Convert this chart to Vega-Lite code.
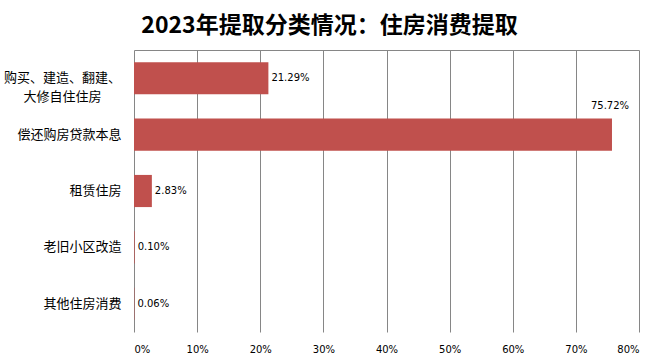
{
  "$schema": "https://vega.github.io/schema/vega-lite/v6.json",
  "width": 505,
  "height": 282,
  "autosize": "none",
  "padding": {"left": 134, "top": 50, "right": 18, "bottom": 25},
  "background": "white",
  "title": {
    "text": "2023年提取分类情况：住房消费提取",
    "font": "Noto Sans CJK SC",
    "fontSize": 23,
    "fontWeight": "bold",
    "color": "#000000",
    "anchor": "middle",
    "frame": "group",
    "dx": -57,
    "offset": 11
  },
  "config": {
    "view": {"stroke": null},
    "axis": {"labelFont": "DejaVu Sans", "labelColor": "#000000"}
  },
  "data": {
    "values": [
      {"category": "购买、建造、翻建、大修自住住房", "share": 21.29},
      {"category": "偿还购房贷款本息", "share": 75.72},
      {"category": "租赁住房", "share": 2.83},
      {"category": "老旧小区改造", "share": 0.10},
      {"category": "其他住房消费", "share": 0.06}
    ]
  },
  "transform": [{"calculate": "format(datum.share, '.2f') + '%'", "as": "label"}],
  "encoding": {
    "y": {
      "field": "category",
      "type": "nominal",
      "sort": null,
      "scale": {"paddingInner": 0.43, "paddingOuter": 0.215},
      "axis": {
        "title": null,
        "ticks": false,
        "domain": false,
        "labelFont": "Noto Sans CJK SC",
        "labelFontSize": 13,
        "labelAlign": {"condition": {"test": "datum.value == '购买、建造、翻建、大修自住住房'", "value": "center"}, "value": "right"},
        "labelPadding": {"condition": {"test": "datum.value == '购买、建造、翻建、大修自住住房'", "value": 72}, "value": 13},
        "labelLineHeight": 19,
        "labelLimit": 200,
        "labelExpr": "datum.value == '购买、建造、翻建、大修自住住房' ? ['购买、建造、翻建、', '大修自住住房'] : datum.value"
      }
    }
  },
  "layer": [
    {
      "mark": {"type": "bar", "color": "#C0504D"},
      "encoding": {
        "x": {
          "field": "share",
          "type": "quantitative",
          "scale": {"domain": [0, 80], "nice": false},
          "axis": {
            "orient": "bottom",
            "title": null,
            "values": [0, 10, 20, 30, 40, 50, 60, 70, 80],
            "labelExpr": "datum.value + '%'",
            "labelFontSize": 10,
            "labelPadding": 12,
            "ticks": false,
            "domain": false,
            "grid": true,
            "gridColor": "#868686",
            "gridWidth": 1
          }
        }
      }
    },
    {
      "transform": [{"filter": "datum.share < 50"}],
      "mark": {"type": "text", "align": "left", "baseline": "middle", "dx": 3, "font": "DejaVu Sans", "fontSize": 10, "color": "#000000"},
      "encoding": {
        "x": {"field": "share", "type": "quantitative", "axis": null},
        "text": {"field": "label", "type": "nominal"}
      }
    },
    {
      "transform": [{"filter": "datum.share > 50"}],
      "mark": {"type": "text", "align": "center", "baseline": "middle", "dx": -2, "dy": -29, "font": "DejaVu Sans", "fontSize": 10, "color": "#000000"},
      "encoding": {
        "x": {
          "field": "share",
          "type": "quantitative",
          "axis": {"orient": "top", "title": null, "labels": true, "labelOpacity": 0, "labelFontSize": 1, "labelPadding": 0, "ticks": false, "grid": false, "domain": true, "domainColor": "#868686", "domainWidth": 1, "domainOpacity": 1}
        },
        "text": {"field": "label", "type": "nominal"}
      }
    }
  ],
  "resolve": {"axis": {"x": "independent"}}
}
